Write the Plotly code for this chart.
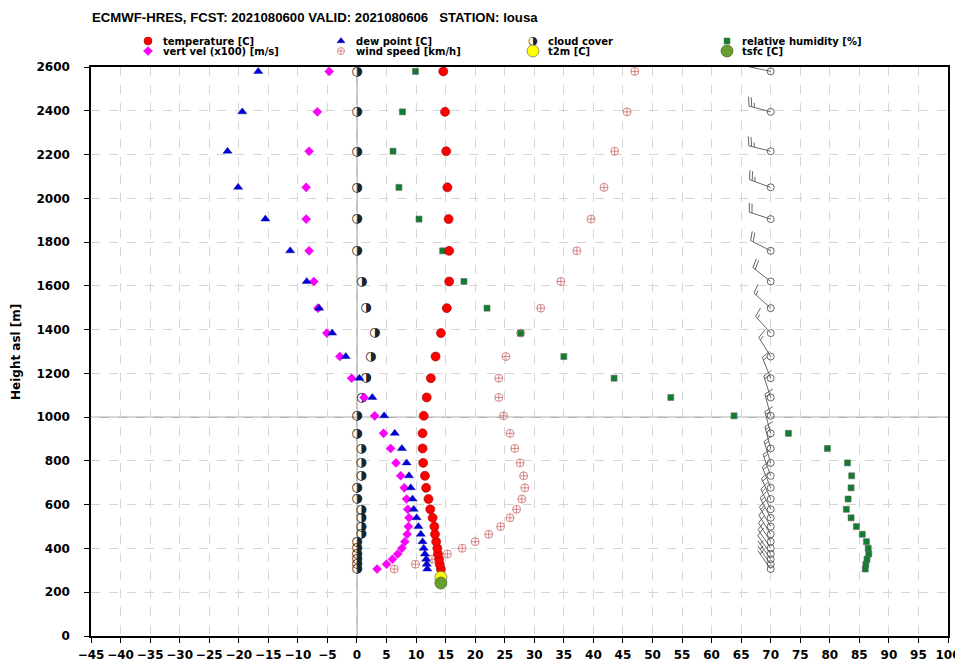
import math
import plotly.graph_objects as go

# ---------------- data (bottom -> top model levels) ----------------
heights = [306, 328, 351, 375, 401, 431, 465, 500, 540, 579, 626, 677, 732, 791, 857,
           926, 1006, 1090, 1178, 1277, 1384, 1498, 1620, 1760, 1905, 2050, 2215, 2395, 2580]
temperature = [14.2, 14.0, 13.9, 13.7, 13.6, 13.4, 13.2, 13.1, 12.8, 12.4, 12.1, 11.7, 11.5, 11.2, 11.1,
               11.1, 11.3, 11.8, 12.5, 13.3, 14.2, 15.2, 15.6, 15.6, 15.5, 15.3, 15.1, 14.9, 14.6]
dew_point = [11.9, 11.8, 11.7, 11.5, 11.3, 11.1, 10.8, 10.4, 10.1, 9.6, 9.4, 9.1, 8.8, 8.4, 7.6,
             6.4, 4.6, 2.6, 0.4, -1.9, -4.2, -6.4, -8.5, -11.3, -15.5, -20.1, -21.9, -19.4, -16.7]
vert_vel = [3.4, 5.0, 6.0, 6.9, 7.6, 8.1, 8.5, 8.7, 8.8, 8.6, 8.4, 8.0, 7.4, 6.6, 5.7,
            4.5, 3.0, 1.2, -0.9, -2.9, -5.1, -6.6, -7.3, -8.1, -8.6, -8.6, -8.1, -6.7, -4.7]
cloud_cover = [0, 0, 0, 0, 0, 0, 0.7, 0.7, 0.7, 0.7, 0, 0, 0.7, 0.7, 0.7,
               0, 0, 0.8, 1.5, 2.3, 3.0, 1.5, 0.8, 0, 0, 0, 0, 0, 0]
wind_speed = [6.3, 9.9, 12.7, 15.3, 17.8, 20.0, 22.3, 24.3, 25.9, 27.0, 27.9, 28.4, 28.2, 27.6, 26.7,
              25.9, 24.8, 24.0, 24.0, 25.2, 27.7, 31.1, 34.5, 37.2, 39.6, 41.8, 43.6, 45.7, 47.0]
wind_dir = [325, 325, 325, 325, 326, 327, 328, 330, 332, 334, 336, 338, 340, 343, 345,
            345, 345, 342, 338, 328, 318, 312, 308, 297, 288, 290, 284, 285, 282]
rel_humidity = [86.0, 86.1, 86.3, 86.6, 86.5, 86.2, 85.5, 84.5, 83.6, 82.8, 83.1, 83.6, 83.7, 83.0, 79.6,
                73.0, 63.8, 53.1, 43.5, 35.0, 27.7, 22.0, 18.1, 14.5, 10.5, 7.1, 6.1, 7.7, 9.9]
t2m_value = [14.2]
t2m_height = [268]
tsfc_value = [14.2]
tsfc_height = [242]
barb_column = 70

x_ticks = list(range(-45, 101, 5))
y_ticks = list(range(0, 2601, 200))

title_text = "ECMWF-HRES, FCST: 2021080600 VALID: 2021080606   STATION: lousa"
legend_labels = ["temperature [C]", "dew point [C]", "cloud cover", "relative humidity [%]",
                 "vert vel (x100) [m/s]", "wind speed [km/h]", "t2m [C]", "tsfc [C]"]

# ---------------- layout geometry (window pixels) ----------------
WIN_W, WIN_H = 963, 663
BODY = 8                                # default page body margin
W, H = WIN_W - BODY, WIN_H - BODY       # figure size so that it ends at the window edge
PL, PR, PT, PB = 91, 948, 67, 636       # plot area edges in window pixels
XR = [-45, 100]
YR = [0, 2600]
PX_X = (PR - PL) / (XR[1] - XR[0])
PX_Y = (PB - PT) / (YR[1] - YR[0])
FONT = "DejaVu Sans"

fig = go.Figure()

# cloud cover (half-filled circle glyph)
fig.add_trace(go.Scatter(x=cloud_cover, y=heights, mode="text", text=["\u25d1"] * len(heights),
                         textfont=dict(family=FONT, size=13, color="#222222"),
                         textposition="middle center", cliponaxis=False))
# wind speed
fig.add_trace(go.Scatter(x=wind_speed, y=heights, mode="markers",
                         marker=dict(symbol="circle-cross-open", size=8, color="#d07a7a",
                                     line=dict(width=0.9, color="#d07a7a"))))
# relative humidity
fig.add_trace(go.Scatter(x=rel_humidity, y=heights, mode="markers",
                         marker=dict(symbol="square", size=6, color="#0f7f2f",
                                     line=dict(width=0.6, color="#666666"))))
# vertical velocity
fig.add_trace(go.Scatter(x=vert_vel, y=heights, mode="markers",
                         marker=dict(symbol="diamond", size=7, color="#ff00ff",
                                     line=dict(width=0.4, color="#cc00cc"))))
# dew point
fig.add_trace(go.Scatter(x=dew_point, y=heights, mode="markers",
                         marker=dict(symbol="triangle-up", size=8, color="#0000dd",
                                     line=dict(width=0.4, color="#000088"))))
# temperature
fig.add_trace(go.Scatter(x=temperature, y=heights, mode="markers",
                         marker=dict(symbol="circle", size=9, color="#ff0000",
                                     line=dict(width=0.6, color="#990000"))))
# t2m / tsfc
fig.add_trace(go.Scatter(x=t2m_value, y=t2m_height, mode="markers",
                         marker=dict(symbol="circle", size=12, color="#ffff00",
                                     line=dict(width=0.8, color="#777777"))))
fig.add_trace(go.Scatter(x=tsfc_value, y=tsfc_height, mode="markers",
                         marker=dict(symbol="circle", size=12, color="#66a02c",
                                     line=dict(width=0.8, color="#556633"))))

# ---------------- wind barbs ----------------
BL = 22.5               # staff length in px
SP = 0.125 * BL
FH = 0.4 * BL
FW = 0.25 * BL
bx, by = [], []
for h, spd, d in zip(heights, wind_speed, wind_dir):
    kt = spd / 1.852
    r = int(kt / 5 + 0.5) * 5
    nfull = r // 10
    half = (r % 10) == 5
    th = math.radians(d)
    ux, uy = math.sin(th), math.cos(th)
    pxv, pyv = math.cos(th), -math.sin(th)

    def P(ax, ay, h=h):
        return barb_column + ax / PX_X, h + ay / PX_Y

    a, b = P(0, 0), P(BL * ux, BL * uy)
    bx += [a[0], b[0], None]
    by += [a[1], b[1], None]
    off = BL
    for i in range(nfull):
        s = (off * ux, off * uy)
        e = (s[0] + FH * pxv + FW / 2 * ux, s[1] + FH * pyv + FW / 2 * uy)
        a, b = P(*s), P(*e)
        bx += [a[0], b[0], None]
        by += [a[1], b[1], None]
        off -= SP
    if half:
        if nfull == 0:
            off -= 1.5 * SP
        s = (off * ux, off * uy)
        e = (s[0] + FH / 2 * pxv + FW / 4 * ux, s[1] + FH / 2 * pyv + FW / 4 * uy)
        a, b = P(*s), P(*e)
        bx += [a[0], b[0], None]
        by += [a[1], b[1], None]

fig.add_trace(go.Scatter(x=bx, y=by, mode="lines", line=dict(color="#555555", width=0.9),
                         cliponaxis=False, hoverinfo="skip"))
fig.add_trace(go.Scatter(x=[barb_column] * len(heights), y=heights, mode="markers",
                         marker=dict(symbol="circle-open", size=7, color="#555555",
                                     line=dict(width=0.9)), cliponaxis=False))

# ---------------- manual legend (full-figure pixel overlay axes x2/y2) ----------------
col_marker_x = [148, 341, 533, 727]
row_y = [41, 51]
leg_specs = [
    dict(symbol="circle", size=8, color="#ff0000", line=dict(width=0.5, color="#990000")),
    dict(symbol="triangle-up", size=7, color="#0000dd", line=dict(width=0.4, color="#000088")),
    None,
    dict(symbol="square", size=6, color="#0f7f2f", line=dict(width=0.5, color="#666666")),
    dict(symbol="diamond", size=7, color="#ff00ff", line=dict(width=0.4, color="#cc00cc")),
    dict(symbol="circle-cross-open", size=7, color="#d07a7a", line=dict(width=0.8, color="#d07a7a")),
    dict(symbol="circle", size=12, color="#ffff00", line=dict(width=0.8, color="#777777")),
    dict(symbol="circle", size=12, color="#66a02c", line=dict(width=0.8, color="#556633")),
]
annotations = []
for i, lab in enumerate(legend_labels):
    r, c = divmod(i, 4)
    mx, my = col_marker_x[c], row_y[r]
    if leg_specs[i] is None:
        fig.add_trace(go.Scatter(x=[mx], y=[my], mode="text", text=["\u25d1"], xaxis="x2", yaxis="y2",
                                 textfont=dict(family=FONT, size=11, color="#222222"),
                                 textposition="middle center", cliponaxis=False))
    else:
        fig.add_trace(go.Scatter(x=[mx], y=[my], mode="markers", marker=leg_specs[i],
                                 xaxis="x2", yaxis="y2", cliponaxis=False))
    annotations.append(dict(x=mx + 14, y=my, xref="x2", yref="y2", text=lab, showarrow=False,
                            xanchor="left", yanchor="middle", borderpad=0,
                            font=dict(family=FONT, size=10, color="black", weight="bold")))

annotations.append(dict(x=91, y=17, xref="x2", yref="y2", text=title_text, showarrow=False,
                        xanchor="left", yanchor="middle", borderpad=0,
                        font=dict(family="Liberation Sans", size=13.2, color="black", weight="bold")))
annotations.append(dict(x=16, y=352, xref="x2", yref="y2", text="Height asl [m]", showarrow=False,
                        textangle=-90, xanchor="center", yanchor="middle",
                        font=dict(family=FONT, size=12, color="black", weight="bold")))

shapes = [
    dict(type="line", xref="x", yref="y", x0=0, x1=0, y0=YR[0], y1=YR[1], layer="below",
         line=dict(color="#b0b0b0", width=1.5)),
    dict(type="line", xref="x", yref="y", x0=XR[0], x1=XR[1], y0=1000, y1=1000, layer="below",
         line=dict(color="#b0b0b0", width=1.5)),
]

axis_common = dict(showline=True, linecolor="black", linewidth=1.5, mirror=True,
                   ticks="outside", ticklen=5, tickwidth=1.2, tickcolor="black",
                   showgrid=True, gridcolor="#d6d6d6", griddash="dash", gridwidth=1,
                   zeroline=False, automargin=False,
                   tickfont=dict(family=FONT, size=12, color="black", weight="bold"))

fig.update_layout(
    width=W, height=H,
    margin=dict(l=0, r=0, t=0, b=0, pad=0),
    paper_bgcolor="white", plot_bgcolor="rgba(0,0,0,0)",
    showlegend=False,
    xaxis=dict(range=XR, domain=[(PL - BODY) / W, (PR - BODY) / W], anchor="y",
               tickmode="array", tickvals=x_ticks, ticklabelstandoff=2, **axis_common),
    yaxis=dict(range=YR, domain=[1 - (PB - BODY) / H, 1 - (PT - BODY) / H], anchor="x",
               tickmode="array", tickvals=y_ticks, ticklabelstandoff=12, **axis_common),
    xaxis2=dict(range=[BODY, WIN_W], domain=[0, 1], anchor="y2", visible=False, fixedrange=True),
    yaxis2=dict(range=[WIN_H, BODY], domain=[0, 1], anchor="x2", visible=False, fixedrange=True),
    annotations=annotations,
    shapes=shapes,
)

fig.write_html("out.html")
